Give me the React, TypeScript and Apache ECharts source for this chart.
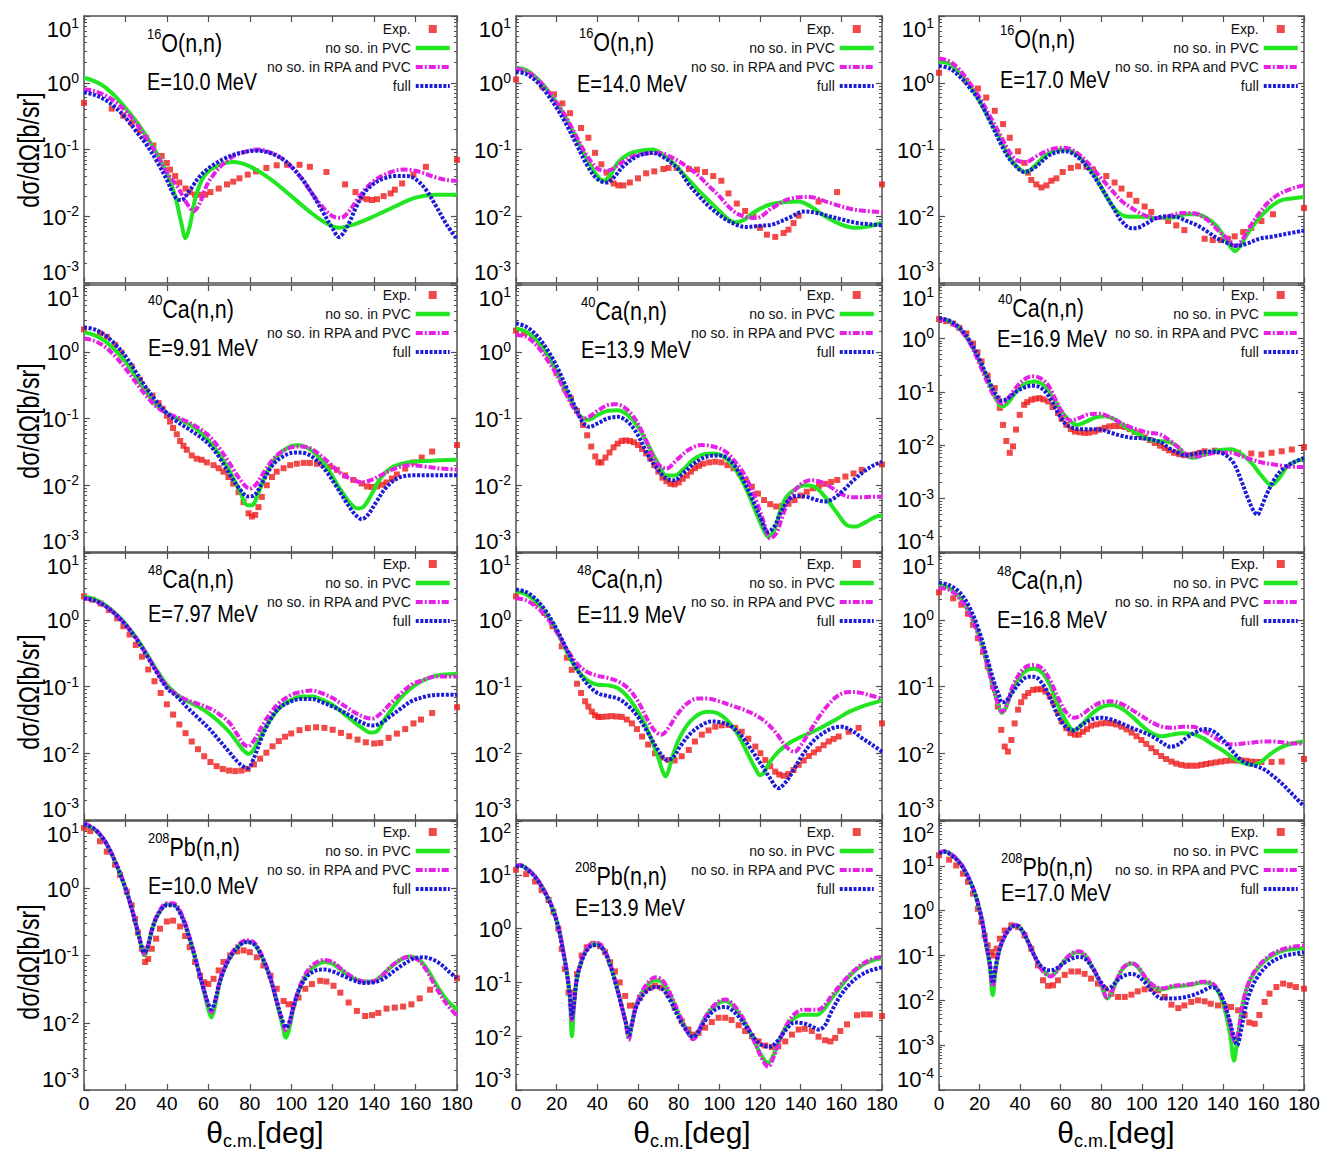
import React, { useEffect, useRef } from "react";
import * as echarts from "echarts";

type Pt = [number, number];

// ---------------- Panel 1: 16O(n,n) E=10.0 MeV ----------------
const p1Exp: Pt[] = [[0,0.5],[13.4,0.41],[19,0.32],[23,0.25],[27,0.19],[30,0.15],[33.5,0.115],[37.5,0.08],[40,0.063],[41.5,0.05],[44,0.04],[46,0.032],[49,0.026],[51,0.023],[53.6,0.021],[56,0.021],[58.5,0.021],[61,0.023],[65,0.026],[69,0.03],[72,0.033],[75,0.037],[79,0.042],[83,0.047],[88,0.053],[93,0.058],[98,0.059],[104,0.059],[109,0.055],[117,0.046],[126,0.03],[131,0.023],[134,0.019],[136.5,0.018],[139,0.0175],[141.4,0.018],[144.6,0.02],[148,0.022],[150,0.025],[153.5,0.031],[159,0.042],[165,0.055],[180,0.07]];
const p1Pvc: Pt[] = [[0,1.19],[5,1.06],[10,0.87],[15,0.63],[20,0.42],[25,0.27],[30,0.16],[35,0.089],[40,0.045],[44,0.02],[47,0.0078],[49,0.0047],[51,0.007],[54,0.02],[58,0.04],[64,0.056],[72,0.065],[80,0.056],[90,0.036],[100,0.02],[110,0.011],[118,0.0075],[123,0.0067],[130,0.0075],[140,0.01],[150,0.014],[160,0.019],[170,0.021],[180,0.021]];
const p1Rpa: Pt[] = [[0,0.8],[5,0.75],[10,0.65],[15,0.52],[20,0.38],[25,0.25],[30,0.15],[35,0.085],[40,0.045],[45,0.028],[50,0.015],[53,0.012],[56,0.016],[59,0.028],[62,0.04],[66,0.056],[72,0.079],[78,0.093],[84,0.1],[90,0.09],[95,0.075],[100,0.055],[105,0.037],[110,0.022],[115,0.014],[120,0.01],[124,0.0095],[128,0.012],[132,0.018],[136,0.026],[140,0.034],[145,0.042],[150,0.048],[155,0.05],[160,0.048],[165,0.043],[170,0.038],[175,0.035],[180,0.034]];
const p1Full: Pt[] = [[0,0.72],[5,0.66],[10,0.56],[15,0.43],[20,0.3],[25,0.19],[30,0.12],[35,0.068],[40,0.035],[43,0.022],[45,0.018],[47,0.0175],[50,0.022],[53,0.03],[56,0.04],[60,0.052],[64,0.063],[68,0.074],[72,0.083],[77,0.091],[82,0.096],[88,0.092],[95,0.075],[100,0.056],[105,0.037],[110,0.022],[115,0.012],[120,0.0065],[123,0.0049],[127,0.007],[131,0.013],[135,0.022],[140,0.031],[145,0.037],[150,0.04],[156,0.04],[160,0.036],[165,0.025],[170,0.014],[175,0.0075],[180,0.0045]];

// ---------------- Panel 2: 16O(n,n) E=14.0 MeV ----------------
const p2Exp: Pt[] = [[0,1.12],[13,0.87],[18.7,0.67],[22.8,0.49],[26.6,0.35],[32,0.21],[35.6,0.15],[38.9,0.089],[42,0.06],[44.6,0.045],[46,0.036],[48,0.031],[50.4,0.029],[52.8,0.029],[56,0.032],[60,0.037],[64,0.044],[68,0.047],[72.5,0.051],[75,0.053],[79,0.053],[85,0.051],[89,0.05],[93,0.046],[97,0.04],[101,0.034],[104.5,0.022],[108.6,0.0155],[112.7,0.012],[116.8,0.01],[120,0.0067],[123.4,0.0053],[127.5,0.0049],[131.6,0.0056],[134,0.0063],[136.5,0.0079],[139,0.0102],[148.8,0.0166],[157.9,0.023],[180,0.03]];
const p2Pvc: Pt[] = [[0,1.68],[5,1.55],[10,1.19],[15,0.81],[20,0.5],[25,0.28],[30,0.141],[35,0.071],[40,0.04],[43,0.034],[46,0.04],[50,0.063],[55,0.084],[60,0.094],[67,0.1],[72,0.085],[78,0.06],[85,0.035],[90,0.024],[95,0.017],[100,0.012],[104,0.0092],[108,0.0081],[112,0.0088],[118,0.012],[125,0.015],[132,0.0163],[139,0.0167],[145,0.014],[152,0.01],[160,0.0075],[167,0.0067],[173,0.007],[180,0.008]];
const p2Rpa: Pt[] = [[0,1.62],[5,1.5],[10,1.17],[15,0.8],[20,0.5],[25,0.29],[30,0.15],[35,0.08],[40,0.052],[44,0.048],[47,0.05],[52,0.064],[58,0.08],[64,0.087],[70,0.089],[77,0.075],[85,0.053],[90,0.04],[95,0.028],[100,0.02],[104.5,0.014],[110,0.0105],[118,0.0094],[126,0.0133],[134,0.018],[144,0.0195],[154,0.016],[164,0.013],[172,0.012],[180,0.0115]];
const p2Full: Pt[] = [[0,1.45],[5,1.35],[10,1.05],[15,0.7],[20,0.42],[25,0.23],[30,0.115],[35,0.058],[40,0.036],[44.6,0.032],[48,0.038],[53,0.057],[60,0.08],[67,0.089],[73,0.075],[80,0.05],[85,0.03],[90,0.02],[95,0.014],[100,0.0105],[104.5,0.0085],[113,0.0069],[120,0.0072],[126,0.0075],[134,0.0094],[142,0.0118],[148,0.0112],[154,0.01],[160,0.009],[167,0.008],[174,0.0076],[180,0.0073]];

// ---------------- Panel 3: 16O(n,n) E=17.0 MeV ----------------
const p3Exp: Pt[] = [[0,1.41],[13.5,1.06],[19.2,0.82],[23.3,0.6],[27.5,0.38],[31.6,0.24],[34.9,0.15],[39,0.094],[42.2,0.063],[43.9,0.045],[45.5,0.035],[48,0.03],[50.5,0.027],[53,0.029],[55.4,0.034],[57.9,0.037],[61,0.046],[65,0.053],[68.6,0.056],[72.7,0.055],[76,0.05],[82.5,0.04],[86.6,0.032],[90,0.026],[94,0.021],[97.3,0.017],[101.4,0.014],[104.7,0.0116],[113,0.0085],[117,0.0073],[121,0.0062],[131,0.0046],[135,0.0044],[139,0.0044],[142.5,0.0046],[145.8,0.005],[150,0.0058],[154,0.0067],[159,0.0085],[164.7,0.0107],[180,0.0133]];
const p3Pvc: Pt[] = [[0,2.07],[5,1.93],[10,1.41],[15,0.94],[20,0.53],[25,0.28],[30,0.15],[35,0.075],[40,0.05],[43,0.046],[47,0.056],[52,0.079],[57,0.096],[62,0.1],[67,0.089],[72,0.063],[77,0.04],[82,0.021],[87,0.0126],[92,0.01],[97,0.0098],[102,0.0098],[107,0.0094],[112,0.0094],[117,0.0098],[122,0.0107],[127,0.0107],[132,0.0094],[137,0.0071],[141,0.0047],[144,0.0034],[146,0.003],[149,0.0038],[153,0.006],[158,0.0094],[163,0.0134],[168,0.017],[174,0.0185],[180,0.0194]];
const p3Rpa: Pt[] = [[0,2.3],[5,2.1],[10,1.58],[15,1.0],[20,0.6],[25,0.32],[30,0.17],[34,0.1],[37,0.075],[40,0.066],[43,0.065],[48,0.079],[55,0.1],[62,0.106],[68,0.089],[75,0.056],[80,0.037],[85,0.025],[90,0.017],[95,0.0133],[100,0.0108],[105,0.0096],[110,0.0094],[115,0.0104],[120,0.0112],[124,0.0112],[128,0.0106],[133,0.0085],[138,0.006],[143,0.0044],[146,0.0036],[149,0.0042],[153,0.0067],[158,0.0112],[163,0.0168],[168,0.0216],[174,0.026],[180,0.029]];
const p3Full: Pt[] = [[0,1.78],[5,1.65],[10,1.26],[15,0.85],[20,0.53],[25,0.27],[30,0.13],[34,0.078],[37,0.06],[42,0.046],[47,0.053],[55,0.084],[62,0.094],[68,0.079],[74,0.05],[80,0.027],[86,0.0134],[90,0.0085],[95,0.0066],[98,0.0067],[102,0.0077],[107,0.0093],[112,0.01],[117,0.0098],[122,0.0085],[127,0.0074],[132,0.006],[137,0.0047],[142,0.004],[147,0.0036],[152,0.0039],[158,0.0046],[165,0.005],[172,0.0055],[180,0.0061]];

// ---------------- Panel 4: 40Ca(n,n) E=9.91 MeV ----------------
const p4Exp: Pt[] = [[0,2.16],[7.7,1.88],[11,1.68],[15,1.26],[18,0.97],[23,0.6],[27,0.38],[30,0.26],[33,0.22],[36,0.17],[38,0.14],[40,0.11],[41.5,0.09],[43,0.072],[44.8,0.058],[46.4,0.046],[48,0.039],[49.6,0.034],[52,0.028],[54.4,0.025],[56.8,0.024],[59.3,0.022],[62.5,0.02],[65,0.018],[67.3,0.016],[69.7,0.0133],[72,0.0106],[74.6,0.0079],[77,0.0056],[79.4,0.0038],[81,0.0034],[82.6,0.0036],[84.2,0.0047],[85.8,0.0067],[88.2,0.01],[90.7,0.0133],[93,0.016],[96.3,0.018],[99.5,0.02],[102.7,0.021],[106,0.0216],[109,0.0216],[112.4,0.021],[115.6,0.02],[118.8,0.019],[122,0.017],[126,0.014],[130,0.012],[134,0.0106],[136.6,0.0096],[139,0.0094],[141.4,0.0096],[143.8,0.0102],[146,0.011],[148.6,0.0126],[151,0.0145],[155,0.0178],[159,0.022],[163,0.026],[168,0.032],[180,0.04]];
const p4Pvc: Pt[] = [[0,1.95],[5,1.78],[10,1.46],[15,1.06],[20,0.71],[25,0.42],[30,0.25],[35,0.158],[40,0.12],[45,0.1],[50,0.084],[55,0.067],[60,0.047],[65,0.03],[70,0.017],[75,0.0084],[79,0.005],[81,0.005],[84,0.0075],[88,0.015],[93,0.027],[98,0.036],[103,0.04],[108,0.036],[113,0.027],[118,0.017],[123,0.0094],[128,0.0056],[132,0.0045],[135,0.0048],[139,0.0075],[143,0.0126],[148,0.018],[155,0.0216],[165,0.023],[180,0.024]];
const p4Rpa: Pt[] = [[0,1.58],[5,1.46],[10,1.19],[15,0.86],[20,0.56],[25,0.35],[30,0.22],[35,0.15],[40,0.12],[45,0.104],[50,0.089],[55,0.073],[60,0.056],[65,0.037],[70,0.022],[75,0.0126],[80,0.0089],[83,0.0103],[87,0.016],[92,0.026],[97,0.034],[103,0.038],[108,0.037],[113,0.03],[118,0.022],[124,0.015],[130,0.012],[134,0.011],[138,0.0118],[143,0.014],[150,0.0178],[157,0.02],[165,0.019],[172,0.0178],[180,0.0172]];
const p4Full: Pt[] = [[0,2.32],[5,2.16],[10,1.78],[15,1.3],[20,0.86],[25,0.5],[30,0.29],[35,0.18],[40,0.12],[45,0.089],[50,0.071],[55,0.056],[60,0.042],[65,0.027],[70,0.015],[75,0.0089],[79,0.0068],[82,0.007],[86,0.011],[91,0.02],[96,0.027],[102,0.031],[107,0.03],[112,0.024],[117,0.016],[122,0.0094],[127,0.0053],[131,0.0036],[134,0.0031],[137,0.0036],[141,0.0056],[146,0.0094],[152,0.013],[160,0.0141],[170,0.0141],[180,0.0141]];

// ---------------- Panel 5: 40Ca(n,n) E=13.9 MeV ----------------
const p5Exp: Pt[] = [[0,2.07],[4,1.9],[8,1.6],[12,1.2],[16,0.8],[20,0.48],[24,0.28],[27,0.2],[30,0.13],[33,0.08],[35,0.056],[37,0.038],[39,0.027],[40.5,0.022],[42,0.022],[44,0.026],[46,0.031],[48,0.037],[50,0.042],[52,0.046],[54,0.047],[56,0.046],[58,0.044],[60,0.04],[62,0.035],[64,0.03],[66,0.025],[68,0.02],[70,0.016],[72,0.013],[74,0.0115],[76,0.0105],[78,0.0103],[80,0.011],[82,0.0125],[84,0.014],[86,0.016],[88,0.018],[90,0.0195],[92,0.021],[95,0.022],[98,0.0225],[101,0.022],[104,0.02],[107,0.018],[110,0.015],[113,0.012],[116,0.0095],[119,0.0075],[122,0.006],[125,0.0052],[128,0.0048],[131,0.0049],[134,0.0053],[137,0.006],[140,0.007],[143,0.008],[146,0.009],[149,0.0098],[152,0.0105],[155,0.0112],[158,0.012],[162,0.0135],[166,0.015],[170,0.017],[180,0.0205]];
const p5Pvc: Pt[] = [[0,2.24],[5,2.0],[10,1.5],[15,0.94],[20,0.5],[25,0.24],[30,0.126],[33,0.1],[36,0.096],[40,0.112],[45,0.13],[50,0.133],[55,0.112],[60,0.075],[65,0.04],[70,0.021],[74,0.014],[78,0.014],[82,0.017],[87,0.024],[92,0.029],[97,0.03],[102,0.027],[107,0.019],[112,0.0106],[117,0.0047],[121,0.0024],[124,0.0017],[127,0.0021],[130,0.0042],[133,0.0067],[137,0.0086],[142,0.01],[147,0.0094],[152,0.0067],[158,0.0038],[163,0.0025],[167,0.0024],[172,0.0028],[177,0.0034],[180,0.0035]];
const p5Rpa: Pt[] = [[0,1.78],[5,1.68],[10,1.26],[15,0.79],[20,0.45],[25,0.22],[30,0.12],[33,0.1],[36,0.106],[40,0.13],[45,0.158],[49,0.164],[54,0.141],[59,0.094],[64,0.047],[69,0.022],[74,0.0178],[79,0.024],[85,0.034],[91,0.04],[97,0.038],[103,0.032],[108,0.022],[113,0.0133],[118,0.006],[122,0.0027],[125,0.0016],[128,0.0019],[131,0.0034],[135,0.0067],[140,0.0103],[145,0.0119],[150,0.0112],[155,0.0093],[160,0.0074],[165,0.0066],[170,0.0066],[175,0.0067],[180,0.0067]];
const p5Full: Pt[] = [[0,2.66],[5,2.37],[10,1.78],[15,1.12],[20,0.61],[25,0.28],[30,0.13],[33,0.086],[36,0.075],[40,0.084],[45,0.1],[50,0.106],[55,0.089],[60,0.056],[65,0.028],[70,0.0168],[74,0.0126],[78,0.0119],[82,0.015],[88,0.0216],[94,0.027],[100,0.028],[105,0.024],[110,0.015],[115,0.0075],[120,0.0034],[124,0.002],[127,0.0024],[130,0.0038],[134,0.006],[138,0.0069],[143,0.0067],[148,0.006],[152,0.0057],[156,0.0063],[161,0.0084],[166,0.0119],[171,0.016],[176,0.02],[180,0.0224]];

// ---------------- Panel 6: 40Ca(n,n) E=16.9 MeV ----------------
const p6Exp: Pt[] = [[0,2.3],[3.5,2.1],[7,1.9],[10,1.58],[13.5,1.24],[16.8,0.8],[19,0.55],[21,0.37],[24,0.2],[27.5,0.117],[29,0.075],[30,0.05],[31.6,0.024],[33.2,0.012],[34.9,0.0072],[36.5,0.0095],[38,0.0196],[39.8,0.037],[42,0.057],[43.5,0.064],[45.5,0.071],[47.5,0.074],[49.6,0.076],[51.5,0.072],[53.8,0.066],[56,0.052],[58.7,0.04],[60.5,0.031],[62.8,0.024],[65,0.02],[67,0.018],[69.5,0.0175],[71.8,0.017],[74,0.0172],[76.8,0.018],[79,0.0195],[81.7,0.021],[84,0.0225],[86.6,0.023],[89,0.0228],[91.6,0.022],[94,0.02],[96.5,0.0177],[99,0.0158],[101.4,0.014],[104,0.0125],[106.4,0.011],[109,0.0098],[111.3,0.0089],[113.5,0.008],[116,0.0072],[118.5,0.0068],[121,0.0065],[123.5,0.0065],[126,0.0067],[128.5,0.0072],[131,0.0077],[136,0.0079],[141,0.0077],[147.5,0.0072],[154,0.007],[159,0.0067],[164,0.0072],[169,0.0077],[174,0.0083],[180,0.0092]];
const p6Pvc: Pt[] = [[0,2.36],[5,2.1],[10,1.54],[15,0.87],[20,0.37],[25,0.135],[28,0.076],[31,0.053],[34,0.062],[38,0.1],[42,0.14],[47,0.156],[52,0.13],[56,0.08],[60,0.045],[64,0.03],[68,0.024],[72,0.027],[77,0.033],[82,0.035],[87,0.03],[92,0.022],[97,0.017],[102,0.0135],[107,0.012],[112,0.0118],[117,0.0098],[121,0.0068],[125,0.0058],[130,0.0065],[135,0.0076],[140,0.0082],[144,0.0084],[149,0.0069],[154,0.0047],[159,0.0027],[164,0.0018],[168,0.0025],[172,0.0041],[176,0.005],[180,0.0056]];
const p6Rpa: Pt[] = [[0,2.3],[5,2.05],[10,1.5],[15,0.85],[20,0.33],[25,0.12],[28,0.075],[31,0.06],[34,0.075],[38,0.12],[42,0.17],[46,0.195],[50,0.18],[54,0.13],[58,0.065],[62,0.035],[65,0.029],[69,0.032],[74,0.038],[79,0.039],[84,0.034],[89,0.027],[94,0.022],[99,0.019],[104,0.017],[109,0.016],[114,0.012],[119,0.0085],[124,0.006],[129,0.0063],[134,0.007],[139,0.0072],[144,0.0072],[149,0.0063],[154,0.0054],[160,0.0047],[166,0.0043],[172,0.004],[180,0.0039]];
const p6Full: Pt[] = [[0,2.4],[5,2.15],[10,1.6],[15,0.92],[20,0.4],[25,0.15],[28,0.09],[31,0.068],[34,0.075],[38,0.1],[42,0.12],[46,0.13],[50,0.12],[54,0.085],[58,0.045],[62,0.026],[66,0.021],[70,0.02],[75,0.02],[80,0.0195],[85,0.017],[90,0.015],[95,0.0138],[100,0.0135],[105,0.0128],[110,0.011],[114,0.0085],[118,0.0072],[121,0.0065],[125,0.0068],[130,0.0074],[135,0.0076],[140,0.007],[145,0.0048],[149,0.0022],[152,0.0011],[155,0.0006],[157,0.0005],[159,0.0007],[162,0.0013],[166,0.0025],[170,0.0037],[175,0.0048],[180,0.0058]];

// ---------------- Panel 7: 48Ca(n,n) E=7.97 MeV ----------------
const p7Exp: Pt[] = [[0,2.24],[4,2.0],[8,1.75],[12,1.4],[16,1.05],[19,0.8],[22,0.6],[25,0.42],[28,0.28],[31,0.18],[34,0.12],[37,0.08],[40,0.054],[43,0.038],[46,0.027],[49,0.02],[52,0.015],[55,0.0115],[58,0.009],[61,0.0074],[64,0.0064],[67,0.0058],[70,0.0055],[73,0.0054],[76,0.0055],[79,0.0058],[82,0.0068],[85,0.0083],[88,0.0102],[91,0.0127],[94,0.0152],[97,0.0177],[100,0.0198],[104,0.0222],[108,0.0238],[112,0.0245],[116,0.024],[120,0.0225],[124,0.0202],[128,0.018],[132,0.016],[136,0.0146],[140,0.014],[143,0.0143],[147,0.017],[151,0.0197],[155,0.023],[159,0.028],[162.6,0.032],[168,0.04],[180,0.049]];
const p7Pvc: Pt[] = [[0,2.24],[5,2.04],[10,1.68],[15,1.26],[20,0.87],[25,0.55],[30,0.32],[35,0.178],[40,0.106],[45,0.075],[50,0.06],[55,0.05],[60,0.04],[65,0.03],[70,0.021],[74,0.0145],[77,0.011],[79.5,0.0098],[82,0.0115],[86,0.02],[90,0.032],[95,0.05],[100,0.063],[105,0.071],[110,0.071],[115,0.063],[120,0.053],[125,0.04],[130,0.03],[135,0.023],[138,0.0204],[141,0.021],[145,0.032],[150,0.053],[155,0.079],[160,0.106],[165,0.129],[170,0.145],[180,0.155]];
const p7Rpa: Pt[] = [[0,2.1],[5,1.95],[10,1.62],[15,1.22],[20,0.85],[25,0.54],[30,0.31],[35,0.172],[40,0.1],[45,0.075],[50,0.062],[55,0.055],[60,0.048],[65,0.039],[70,0.029],[74,0.019],[77,0.0138],[79,0.0126],[82,0.0155],[86,0.026],[90,0.04],[94,0.056],[100,0.075],[105,0.083],[110,0.087],[115,0.079],[120,0.067],[125,0.053],[130,0.042],[135,0.035],[139,0.033],[143,0.039],[148,0.056],[153,0.079],[158,0.106],[163,0.123],[170,0.141],[180,0.141]];
const p7Full: Pt[] = [[0,2.1],[5,1.95],[10,1.62],[15,1.22],[20,0.84],[25,0.53],[30,0.3],[35,0.165],[40,0.095],[45,0.07],[50,0.048],[55,0.034],[60,0.024],[65,0.016],[70,0.0105],[74,0.0075],[77,0.0063],[79,0.006],[82,0.0085],[86,0.018],[90,0.032],[94,0.047],[100,0.06],[105,0.065],[110,0.065],[115,0.058],[120,0.05],[125,0.042],[130,0.034],[135,0.028],[139,0.026],[143,0.028],[148,0.036],[153,0.047],[158,0.06],[165,0.071],[172,0.075],[180,0.075]];

// ---------------- Panel 8: 48Ca(n,n) E=11.9 MeV ----------------
const p8Exp: Pt[] = [[0,2.24],[10,1.78],[14,1.26],[18,0.8],[22.5,0.4],[25,0.27],[27.4,0.178],[30,0.11],[32,0.08],[34,0.06],[35.6,0.05],[37.3,0.042],[38.9,0.037],[40.5,0.035],[42,0.035],[44.5,0.0355],[47,0.036],[49.5,0.0355],[52,0.035],[54.5,0.032],[57,0.028],[59.5,0.023],[62,0.0178],[65,0.0135],[68.4,0.01],[71.7,0.0086],[75,0.0079],[78,0.0078],[81.5,0.009],[85,0.0112],[88,0.015],[91.4,0.019],[94.7,0.022],[98,0.025],[101.2,0.0262],[104.5,0.0266],[107.8,0.024],[111,0.021],[114.3,0.0165],[117.7,0.0126],[120.2,0.01],[122.6,0.0079],[125,0.0064],[127.5,0.0053],[129.5,0.0048],[131.6,0.0046],[134,0.0049],[136.5,0.0056],[139,0.0067],[141.5,0.0078],[144,0.0091],[146.5,0.0103],[148.8,0.0115],[151.3,0.0132],[153.8,0.015],[156.2,0.0164],[158.7,0.0178],[163.6,0.021],[168.5,0.024],[180,0.028]];
const p8Pvc: Pt[] = [[0,2.66],[5,2.4],[10,1.85],[15,1.2],[20,0.68],[25,0.33],[30,0.18],[35,0.125],[40,0.106],[45,0.104],[50,0.095],[55,0.07],[60,0.042],[64,0.025],[67,0.015],[70,0.0085],[72,0.0055],[73.5,0.0045],[75,0.0055],[77,0.009],[80,0.016],[84,0.026],[88,0.035],[92,0.041],[95,0.042],[99,0.04],[103,0.033],[107,0.024],[111,0.015],[115,0.0085],[118,0.0057],[120,0.0047],[122,0.0052],[125,0.0075],[129,0.0105],[134,0.014],[140,0.0175],[146,0.021],[152,0.026],[158,0.033],[164,0.042],[170,0.05],[175,0.056],[180,0.062]];
const p8Rpa: Pt[] = [[0,2.1],[5,1.95],[10,1.55],[15,1.1],[20,0.65],[25,0.36],[30,0.22],[35,0.165],[40,0.145],[45,0.135],[50,0.12],[55,0.095],[60,0.06],[64,0.035],[68,0.022],[71.5,0.019],[75,0.024],[79,0.037],[84,0.055],[89,0.066],[94,0.066],[100,0.06],[106,0.052],[112,0.045],[118,0.037],[123,0.029],[128,0.02],[132,0.0135],[135,0.011],[137,0.0105],[140,0.013],[144,0.02],[149,0.035],[154,0.055],[159,0.075],[164,0.083],[169,0.081],[174,0.074],[180,0.066]];
const p8Full: Pt[] = [[0,2.85],[5,2.6],[10,2.0],[15,1.3],[20,0.72],[25,0.36],[30,0.18],[35,0.11],[40,0.08],[45,0.072],[50,0.066],[55,0.052],[60,0.035],[65,0.02],[70,0.011],[74,0.008],[77,0.0085],[81,0.013],[86,0.02],[91,0.026],[96,0.03],[101,0.029],[106,0.025],[111,0.018],[116,0.011],[121,0.0065],[125,0.0042],[129,0.003],[133,0.0038],[137,0.006],[141,0.0095],[146,0.015],[151,0.02],[156,0.024],[160,0.025],[165,0.022],[170,0.017],[175,0.0135],[180,0.0105]];

// ---------------- Panel 9: 48Ca(n,n) E=16.8 MeV ----------------
const p9Exp: Pt[] = [[0,2.57],[7,2.1],[11,1.68],[14.3,1.23],[16.8,0.84],[19.2,0.53],[21.7,0.33],[24,0.2],[26.6,0.1],[29,0.05],[30.7,0.0224],[32.4,0.0126],[34,0.0106],[35.7,0.0158],[37.3,0.028],[39,0.045],[40.5,0.058],[42.2,0.071],[44,0.08],[46.4,0.089],[48.5,0.091],[50.5,0.091],[52.5,0.084],[54.6,0.071],[56.5,0.057],[58.7,0.04],[60.5,0.03],[62.8,0.0237],[64.8,0.02],[67,0.019],[69,0.019],[71,0.021],[73,0.023],[75,0.0259],[77.5,0.027],[80,0.028],[82.5,0.0285],[85,0.028],[87.5,0.027],[90,0.025],[92.5,0.0228],[95,0.0204],[97.4,0.018],[99.8,0.0158],[102.2,0.0138],[104.7,0.0119],[107,0.0104],[109.6,0.0091],[112,0.0082],[114.6,0.0075],[117,0.007],[119.5,0.0067],[122,0.0065],[124.4,0.0065],[127,0.0065],[129.4,0.0067],[131.7,0.0069],[134,0.0071],[136.5,0.0073],[139,0.0075],[141.5,0.0077],[144,0.0078],[146.5,0.0078],[149,0.0078],[151.5,0.0077],[154,0.0075],[156.5,0.0074],[159,0.0074],[164,0.0074],[169,0.0075],[180,0.0082]];
const p9Pvc: Pt[] = [[0,3.35],[5,2.98],[10,2.2],[15,1.3],[20,0.55],[24,0.2],[27,0.09],[29.5,0.05],[31,0.04],[33,0.048],[36,0.085],[40,0.14],[44,0.18],[47,0.185],[51,0.16],[55,0.1],[59,0.05],[63,0.029],[66.5,0.022],[70,0.026],[75,0.038],[80,0.049],[85,0.053],[90,0.047],[95,0.036],[100,0.026],[105,0.02],[110,0.018],[115,0.019],[120,0.02],[125,0.0195],[130,0.017],[135,0.0135],[140,0.011],[145,0.0085],[150,0.0072],[155,0.0067],[159,0.0075],[163,0.0095],[168,0.012],[174,0.014],[180,0.015]];
const p9Rpa: Pt[] = [[0,3.0],[5,2.8],[10,2.1],[15,1.25],[20,0.52],[24,0.2],[27,0.09],[29.5,0.05],[31,0.042],[33,0.05],[36,0.095],[40,0.16],[44,0.205],[47,0.21],[51,0.185],[55,0.12],[59,0.065],[63,0.04],[66.5,0.034],[70,0.037],[75,0.048],[80,0.058],[85,0.06],[90,0.055],[95,0.045],[100,0.036],[105,0.029],[110,0.025],[115,0.024],[120,0.025],[125,0.025],[130,0.022],[135,0.018],[140,0.0145],[145,0.0135],[150,0.014],[155,0.0145],[160,0.015],[165,0.015],[170,0.0145],[175,0.014],[180,0.014]];
const p9Full: Pt[] = [[0,3.6],[5,3.3],[10,2.6],[15,1.55],[20,0.65],[24,0.25],[27,0.12],[29.5,0.075],[31,0.058],[33,0.06],[36,0.08],[40,0.115],[44,0.14],[47,0.14],[51,0.11],[55,0.065],[59,0.035],[63,0.024],[66.5,0.022],[70,0.026],[75,0.032],[80,0.034],[85,0.032],[90,0.028],[95,0.024],[100,0.021],[105,0.018],[110,0.0145],[114,0.0125],[118,0.0135],[122,0.017],[127,0.021],[131,0.023],[135,0.0215],[140,0.016],[145,0.0105],[150,0.0075],[155,0.0066],[160,0.0058],[165,0.0045],[170,0.0033],[175,0.0023],[180,0.0016]];

// ---------------- Panel 10: 208Pb(n,n) E=10.0 MeV ----------------
const p10Exp: Pt[] = [[0,7.9],[3,7.1],[7.7,5.0],[11,3.5],[15,2.24],[17.4,1.58],[20.6,0.89],[23,0.56],[24.6,0.35],[26,0.22],[27.9,0.126],[29.5,0.08],[31,0.089],[32.7,0.126],[34.8,0.178],[36.7,0.25],[40,0.32],[43,0.33],[46.4,0.27],[48.8,0.195],[51,0.133],[53.6,0.08],[56,0.05],[58,0.04],[60,0.0376],[62.5,0.045],[65,0.06],[67.3,0.08],[70.5,0.1],[73.8,0.115],[77,0.119],[80,0.112],[83.4,0.094],[86.6,0.071],[90,0.05],[93,0.032],[96.3,0.0211],[98.7,0.0188],[101,0.0188],[103.5,0.0237],[106.8,0.032],[110,0.0376],[114,0.042],[117,0.041],[120.4,0.0355],[123.7,0.028],[127.7,0.02],[131.7,0.015],[135.7,0.0126],[139,0.013],[142,0.014],[146,0.0162],[150,0.0168],[154,0.0174],[158,0.0188],[162,0.023],[167,0.031],[180,0.046]];
const p10Pvc: Pt[] = [[0,8.9],[5,7.5],[10,5.0],[15,2.5],[20,1.0],[23,0.5],[26,0.22],[28,0.126],[29,0.1],[30.5,0.12],[33,0.25],[36,0.42],[40,0.575],[43,0.575],[47,0.4],[51,0.178],[55,0.063],[58,0.028],[60,0.0158],[61.5,0.012],[63,0.0166],[66,0.045],[70,0.089],[74,0.133],[78,0.16],[82,0.15],[86,0.094],[90,0.045],[93,0.02],[95.5,0.01],[97.5,0.006],[99,0.008],[101,0.0158],[104,0.032],[108,0.056],[112,0.072],[116,0.08],[120,0.075],[125,0.058],[130,0.046],[135,0.041],[139,0.041],[143,0.048],[148,0.067],[153,0.087],[157,0.097],[161,0.09],[165,0.067],[170,0.037],[175,0.022],[180,0.0158]];
const p10Rpa: Pt[] = [[0,9.2],[5,7.7],[10,5.1],[15,2.55],[20,1.02],[23,0.51],[26,0.23],[28,0.13],[29,0.105],[30.5,0.125],[33,0.26],[36,0.44],[40,0.6],[43,0.6],[47,0.42],[51,0.185],[55,0.066],[58,0.03],[60,0.018],[61.5,0.0145],[63,0.019],[66,0.048],[70,0.093],[74,0.14],[78,0.168],[82,0.157],[86,0.098],[90,0.047],[93,0.021],[95.5,0.011],[97.5,0.0078],[99,0.0095],[101,0.017],[104,0.034],[108,0.06],[112,0.078],[116,0.086],[120,0.08],[125,0.06],[130,0.047],[135,0.041],[139,0.041],[143,0.048],[148,0.068],[153,0.088],[157,0.096],[161,0.087],[165,0.062],[170,0.033],[175,0.019],[180,0.0126]];
const p10Full: Pt[] = [[0,9.0],[5,7.6],[10,5.05],[15,2.5],[20,1.0],[23,0.5],[26,0.22],[28,0.13],[29,0.11],[30.5,0.13],[33,0.25],[36,0.42],[40,0.56],[43,0.56],[47,0.39],[51,0.175],[55,0.064],[58,0.03],[60,0.019],[61.5,0.0158],[63,0.02],[66,0.045],[70,0.088],[74,0.13],[78,0.158],[82,0.148],[86,0.093],[90,0.045],[93,0.021],[95.5,0.0115],[97.5,0.0085],[99,0.01],[101,0.017],[104,0.032],[108,0.05],[112,0.06],[116,0.062],[120,0.058],[125,0.05],[130,0.043],[135,0.039],[140,0.04],[145,0.046],[150,0.06],[155,0.077],[160,0.092],[164,0.094],[168,0.088],[172,0.075],[176,0.058],[180,0.046]];

// ---------------- Panel 11: 208Pb(n,n) E=13.9 MeV ----------------
const p11Exp: Pt[] = [[0,12.4],[5,10.3],[9.4,7.5],[12.6,5.2],[16,3.4],[18.4,2.05],[20.8,1.0],[22.5,0.42],[24,0.178],[25.8,0.065],[27,0.042],[28.4,0.065],[30,0.143],[32.3,0.316],[34.8,0.45],[38,0.52],[41.4,0.47],[43.8,0.365],[46.3,0.237],[48.7,0.16],[51,0.1],[53.7,0.056],[56,0.037],[58.6,0.037],[61,0.052],[63.5,0.07],[66,0.08],[68.4,0.087],[71.7,0.08],[75,0.06],[78,0.034],[81.5,0.019],[84.8,0.0133],[87,0.0107],[89.8,0.0115],[93,0.0144],[96.3,0.0183],[99.6,0.022],[102.9,0.022],[106,0.02],[109.5,0.016],[112.7,0.0125],[116,0.01],[119.3,0.008],[122.6,0.0067],[125.9,0.0063],[129,0.0065],[132.4,0.008],[135.7,0.0107],[139,0.0133],[142,0.0137],[145.5,0.0125],[148.8,0.0098],[152,0.0084],[154.6,0.008],[157,0.0093],[159.5,0.0125],[162.8,0.0166],[167.7,0.0245],[171,0.0254],[174,0.0254],[180,0.0237]];
const p11Pvc: Pt[] = [[0,14.3],[2,15],[5,13.3],[10,8.7],[15,4.2],[18,2.37],[21,1.0],[23,0.42],[25,0.154],[26.5,0.05],[27.5,0.01],[28.5,0.035],[30,0.12],[32.5,0.27],[35,0.42],[38,0.52],[40,0.52],[43,0.42],[46,0.237],[49,0.1],[52,0.037],[54,0.018],[55.5,0.0095],[57,0.017],[59,0.037],[62,0.065],[65,0.093],[68.5,0.11],[72,0.1],[76,0.056],[80,0.0255],[84,0.0133],[87,0.0094],[89,0.0107],[92,0.019],[96,0.0316],[100,0.042],[103,0.045],[106,0.039],[110,0.0255],[114,0.0144],[118,0.007],[121,0.0042],[124,0.0032],[126,0.004],[129,0.0075],[133,0.0154],[137,0.022],[141,0.025],[145,0.025],[148,0.025],[151,0.03],[155,0.049],[160,0.087],[165,0.143],[170,0.205],[175,0.255],[180,0.28]];
const p11Rpa: Pt[] = [[0,14.5],[2,15.2],[5,13.5],[10,8.8],[15,4.3],[18,2.4],[21,1.02],[23,0.43],[25,0.16],[26.5,0.055],[27.5,0.02],[28.5,0.04],[30,0.125],[32.5,0.28],[35,0.44],[38,0.54],[40,0.54],[43,0.43],[46,0.24],[49,0.1],[52,0.036],[54,0.017],[55.5,0.0085],[57,0.016],[59,0.036],[62,0.068],[65,0.1],[68.5,0.124],[72,0.11],[76,0.06],[80,0.027],[84,0.0128],[87,0.0088],[89,0.0103],[92,0.019],[96,0.033],[100,0.045],[103,0.048],[106,0.042],[110,0.027],[114,0.0148],[118,0.0068],[121,0.0038],[124,0.0027],[126,0.0035],[129,0.0072],[133,0.016],[137,0.026],[141,0.031],[145,0.031],[148,0.031],[151,0.035],[155,0.055],[160,0.094],[165,0.15],[170,0.215],[175,0.27],[180,0.3]];
const p11Full: Pt[] = [[0,14.0],[2,14.8],[5,13.0],[10,8.5],[15,4.1],[18,2.3],[21,0.98],[23,0.41],[25,0.15],[26.5,0.055],[27.5,0.022],[28.5,0.04],[30,0.12],[32.5,0.26],[35,0.4],[38,0.49],[40,0.49],[43,0.4],[46,0.225],[49,0.095],[52,0.035],[54,0.018],[55.5,0.0105],[57,0.017],[59,0.034],[62,0.055],[65,0.072],[68.5,0.082],[72,0.075],[76,0.045],[80,0.022],[84,0.0125],[87,0.0098],[89,0.011],[92,0.017],[96,0.027],[100,0.034],[103,0.035],[106,0.031],[110,0.022],[114,0.0135],[118,0.0085],[121,0.0068],[125,0.0064],[129,0.0085],[133,0.0135],[137,0.018],[141,0.0175],[145,0.0155],[149,0.0133],[152,0.016],[155,0.028],[160,0.06],[165,0.1],[170,0.14],[175,0.17],[180,0.19]];

// ---------------- Panel 12: 208Pb(n,n) E=17.0 MeV ----------------
const p12Exp: Pt[] = [[0,17.2],[5,13.7],[8.5,10.2],[11.8,6.7],[14.3,4.4],[16.8,2.4],[19.2,1.1],[20.9,0.56],[22.5,0.28],[24,0.17],[25.8,0.12],[27,0.1],[28.4,0.142],[30,0.237],[32.4,0.36],[35.7,0.47],[39,0.43],[42.2,0.28],[45.5,0.142],[48.8,0.06],[51.3,0.028],[53.8,0.021],[56.2,0.0217],[58.7,0.028],[62,0.037],[65.3,0.044],[68.6,0.044],[71.8,0.039],[75,0.0305],[78.4,0.0236],[81.7,0.0182],[85,0.0141],[88.3,0.0119],[91.6,0.0119],[94.9,0.0134],[98,0.0159],[101.4,0.0176],[104.7,0.0182],[108,0.0167],[111.3,0.0119],[114.6,0.008],[118,0.0067],[121,0.0077],[124.4,0.0092],[127.7,0.01],[131,0.0095],[134,0.0084],[137.6,0.0077],[140.9,0.0075],[144,0.0071],[147.5,0.006],[150.7,0.0047],[153,0.0032],[155.7,0.003],[158,0.0047],[160.6,0.0092],[163,0.0141],[166.4,0.0198],[169.7,0.0236],[173,0.0217],[176,0.0198],[180,0.0182]];
const p12Pvc: Pt[] = [[0,19.7],[3,21],[6,17.8],[10,12.2],[14,6.1],[18,2.2],[21,0.66],[23,0.2],[25,0.06],[26.5,0.013],[28,0.05],[30,0.142],[33,0.307],[36,0.45],[38,0.47],[41,0.36],[44,0.2],[47,0.1],[50,0.055],[53,0.039],[55,0.035],[58,0.045],[62,0.078],[66,0.11],[69,0.12],[72,0.1],[76,0.051],[80,0.0216],[83,0.011],[85,0.0145],[88,0.0305],[91,0.053],[95,0.066],[98,0.055],[102,0.0305],[106,0.02],[110,0.0175],[115,0.02],[120,0.021],[125,0.0225],[130,0.025],[134,0.024],[138,0.0145],[141,0.006],[143.5,0.0018],[145.5,0.00045],[147,0.0012],[148,0.0023],[150,0.0092],[153,0.0257],[157,0.051],[162,0.085],[167,0.116],[172,0.135],[176,0.142],[180,0.145]];
const p12Rpa: Pt[] = [[0,20],[3,21.5],[6,18.2],[10,12.5],[14,6.2],[18,2.25],[21,0.68],[23,0.21],[25,0.065],[26.5,0.02],[28,0.055],[30,0.145],[33,0.31],[36,0.46],[38,0.48],[41,0.37],[44,0.2],[47,0.1],[50,0.053],[53,0.037],[55,0.034],[58,0.044],[62,0.08],[66,0.115],[69,0.125],[72,0.105],[76,0.053],[80,0.022],[83,0.0115],[85,0.015],[88,0.031],[91,0.055],[95,0.068],[98,0.057],[102,0.032],[106,0.021],[110,0.0185],[115,0.021],[120,0.022],[125,0.0235],[130,0.026],[134,0.025],[138,0.016],[141,0.0075],[143.5,0.003],[145.5,0.0013],[147,0.0015],[148,0.0025],[150,0.0095],[153,0.027],[157,0.054],[162,0.092],[167,0.125],[172,0.148],[176,0.16],[180,0.165]];
const p12Full: Pt[] = [[0,19],[3,20.5],[6,17.3],[10,11.9],[14,6.0],[18,2.2],[21,0.66],[23,0.21],[25,0.07],[26.5,0.024],[28,0.058],[30,0.145],[33,0.3],[36,0.44],[38,0.46],[41,0.36],[44,0.2],[47,0.1],[50,0.06],[53,0.048],[55,0.047],[58,0.052],[62,0.07],[66,0.087],[69,0.093],[72,0.085],[76,0.05],[80,0.025],[83,0.018],[85,0.02],[88,0.028],[91,0.035],[95,0.039],[98,0.035],[102,0.024],[106,0.0145],[110,0.011],[115,0.011],[120,0.0115],[125,0.013],[130,0.016],[134,0.0195],[137,0.018],[140,0.0105],[143,0.004],[145,0.0018],[147,0.001],[149,0.0022],[151,0.0065],[154,0.018],[158,0.038],[163,0.066],[168,0.09],[173,0.105],[177,0.113],[180,0.118]];

// ---------------- Panel descriptors ----------------
const seriesNames = ["Exp.", "no so. in PVC", "no so. in RPA and PVC", "full"];
const panelMass = ["16", "16", "16", "40", "40", "40", "48", "48", "48", "208", "208", "208"];
const panelElement = ["O", "O", "O", "Ca", "Ca", "Ca", "Ca", "Ca", "Ca", "Pb", "Pb", "Pb"];
const panelEnergy = ["10.0", "14.0", "17.0", "9.91", "13.9", "16.9", "7.97", "11.9", "16.8", "10.0", "13.9", "17.0"];
const panelYMin = [1e-3, 1e-3, 1e-3, 1e-3, 1e-3, 1e-4, 1e-3, 1e-3, 1e-3, 1e-3, 1e-3, 1e-4];
const panelYMax = [10, 10, 10, 10, 10, 10, 10, 10, 10, 10, 100, 100];
const panelExp = [p1Exp, p2Exp, p3Exp, p4Exp, p5Exp, p6Exp, p7Exp, p8Exp, p9Exp, p10Exp, p11Exp, p12Exp];
const panelPvc = [p1Pvc, p2Pvc, p3Pvc, p4Pvc, p5Pvc, p6Pvc, p7Pvc, p8Pvc, p9Pvc, p10Pvc, p11Pvc, p12Pvc];
const panelRpa = [p1Rpa, p2Rpa, p3Rpa, p4Rpa, p5Rpa, p6Rpa, p7Rpa, p8Rpa, p9Rpa, p10Rpa, p11Rpa, p12Rpa];
const panelFull = [p1Full, p2Full, p3Full, p4Full, p5Full, p6Full, p7Full, p8Full, p9Full, p10Full, p11Full, p12Full];
const yAxisTitle = "dσ/dΩ[b/sr]";

// ---------------- Layout & style ----------------
const W = 1343;
const H = 1154;
const COL_LEFT = [84, 516, 939];
const COL_WIDTH = [373, 366, 365];
const COL_TITLE_X = [265, 692, 1116];
const ROW_TOP = [16, 285, 553, 821];
const ROW_HEIGHT = [267, 267, 267, 269];
const ROW_TITLE_Y = [150, 421, 692, 962];
const LEGEND_RIGHT = [891, 467, 43];
const LEGEND_TOP = [22, 288, 557, 825];
// [nuclide x, nuclide main-centre y, energy x, energy centre y]
const TITLE_POS: number[][] = [
  [147, 47, 147, 82], [579, 46, 577, 84], [1000, 43, 1000, 80],
  [148, 313, 148, 348], [581, 315, 581, 350], [998, 312, 997, 339],
  [148, 583, 148, 614], [577, 583, 577, 615], [997, 584, 997, 620],
  [148, 851, 148, 886], [575, 880, 575, 908], [1001, 871, 1001, 893],
];

const SANS = "'Liberation Sans', Arial, Helvetica, sans-serif";
const FRAME = "#505050";
const RED = "#ee1a1a";
const GREEN = "#22e622";
const MAGENTA = "#e620e6";
const BLUE = "#1c1cd8";

function buildOption() {
  const grid: any[] = [];
  const xAxis: any[] = [];
  const yAxis: any[] = [];
  const series: any[] = [];
  const legend: any[] = [];
  const elements: any[] = [];

  for (let i = 0; i < 12; i++) {
    const r = Math.floor(i / 3);
    const c = i % 3;
    grid.push({ left: COL_LEFT[c], top: ROW_TOP[r], width: COL_WIDTH[c], height: ROW_HEIGHT[r], containLabel: false });

    const axisLine = { show: true, onZero: false, lineStyle: { color: FRAME, width: 1.5 } };
    const axisTick = { show: true, inside: true, length: 6, lineStyle: { color: FRAME, width: 1.2 } };
    const minorTick = { show: true, splitNumber: 9, length: 3, lineStyle: { color: FRAME, width: 1 } };

    xAxis.push({
      type: "value", gridIndex: i, position: "bottom", min: 0, max: 180, interval: 20,
      axisLine, axisTick, splitLine: { show: false },
      axisLabel: { show: r === 3, fontSize: 19, fontFamily: SANS, color: "#000", margin: 4 },
    });
    xAxis.push({
      type: "value", gridIndex: i, position: "top", min: 0, max: 180, interval: 20,
      axisLine, axisTick, splitLine: { show: false }, axisLabel: { show: false },
    });

    yAxis.push({
      type: "log", gridIndex: i, position: "left", min: panelYMin[i], max: panelYMax[i],
      axisLine, axisTick, minorTick, splitLine: { show: false }, minorSplitLine: { show: false },
      axisLabel: {
        show: true, margin: 5, showMinLabel: true, showMaxLabel: true,
        verticalAlignMinLabel: "bottom", verticalAlignMaxLabel: "top",
        formatter: (v: number) => `{b|10}{e|${Math.round(Math.log10(v))}}`,
        rich: {
          b: { fontSize: 22, fontFamily: SANS, color: "#000", lineHeight: 24, verticalAlign: "bottom" },
          e: { fontSize: 14, fontFamily: SANS, color: "#000", lineHeight: 14, verticalAlign: "top" },
        },
      },
    });
    yAxis.push({
      type: "log", gridIndex: i, position: "right", min: panelYMin[i], max: panelYMax[i],
      axisLine, axisTick, minorTick, splitLine: { show: false }, minorSplitLine: { show: false },
      axisLabel: { show: false },
    });

    const xi = 2 * i;
    series.push({
      name: seriesNames[0], type: "scatter", xAxisIndex: xi, yAxisIndex: xi, data: panelExp[i],
      symbol: "rect", symbolSize: 6, itemStyle: { color: RED }, z: 2, silent: true,
    });
    series.push({
      name: seriesNames[1], type: "line", xAxisIndex: xi, yAxisIndex: xi, data: panelPvc[i],
      symbol: "none", smooth: 0.35, lineStyle: { color: GREEN, width: 4 }, itemStyle: { color: GREEN }, z: 3, silent: true,
    });
    series.push({
      name: seriesNames[2], type: "line", xAxisIndex: xi, yAxisIndex: xi, data: panelRpa[i],
      symbol: "none", smooth: 0.35, lineStyle: { color: MAGENTA, width: 4, type: [7, 2, 2, 2] }, itemStyle: { color: MAGENTA }, z: 4, silent: true,
    });
    series.push({
      name: seriesNames[3], type: "line", xAxisIndex: xi, yAxisIndex: xi, data: panelFull[i],
      symbol: "none", smooth: 0.35, lineStyle: { color: BLUE, width: 4, type: [3, 1.6] }, itemStyle: { color: BLUE }, z: 5, silent: true,
    });

    legend.push({
      orient: "vertical", align: "right", right: LEGEND_RIGHT[c], top: LEGEND_TOP[r], padding: 0,
      itemWidth: 34, itemHeight: 8, itemGap: 5, selectedMode: false, symbolKeepAspect: true,
      data: [
        { name: seriesNames[0], icon: "path://M0,0H10V10H0Z" },
        { name: seriesNames[1], itemStyle: { opacity: 0 }, lineStyle: { width: 4.5 } },
        { name: seriesNames[2], itemStyle: { opacity: 0 }, lineStyle: { width: 4 } },
        { name: seriesNames[3], itemStyle: { opacity: 0 }, lineStyle: { width: 4 } },
      ],
      textStyle: { fontSize: 14, fontFamily: SANS, color: "#111" },
    });

    const tp = TITLE_POS[i];
    elements.push({
      type: "text", x: tp[0], y: tp[1] - 21, z: 100, silent: true, scaleX: 0.86,
      style: {
        text: `{s|${panelMass[i]}}{m|${panelElement[i]}(n,n)}`,
        verticalAlign: "top", align: "left",
        rich: {
          s: { fontSize: 15, fontFamily: SANS, fill: "#000", lineHeight: 15, verticalAlign: "top", padding: [0, 0, 21, 0] },
          m: { fontSize: 25, fontFamily: SANS, fill: "#000", lineHeight: 30, verticalAlign: "bottom" },
        },
      },
    });
    elements.push({
      type: "text", x: tp[2], y: tp[3], z: 100, silent: true, scaleX: 0.83,
      style: {
        text: `E=${panelEnergy[i]} MeV`, fontSize: 24, fontFamily: SANS, fill: "#000",
        verticalAlign: "middle", align: "left",
      },
    });
  }

  // y-axis titles (left column)
  for (let r = 0; r < 4; r++) {
    elements.push({
      type: "text", x: 29, y: ROW_TITLE_Y[r], rotation: Math.PI / 2, scaleX: 0.8, z: 100, silent: true,
      style: { text: yAxisTitle, fontSize: 29, fontFamily: SANS, fill: "#000", align: "center", verticalAlign: "middle" },
    });
  }
  // x-axis titles (bottom row)
  for (let c = 0; c < 3; c++) {
    elements.push({
      type: "text", x: COL_TITLE_X[c], y: 1117, z: 100, silent: true,
      style: {
        text: "{t|θ}{s|c.m.}{t|[deg]}", align: "center", verticalAlign: "top",
        rich: {
          t: { fontSize: 30, fontFamily: SANS, fill: "#000", lineHeight: 24, verticalAlign: "top" },
          s: { fontSize: 18, fontFamily: SANS, fill: "#000", lineHeight: 16, verticalAlign: "top", padding: [15, 0, 0, 0] },
        },
      },
    });
  }

  return {
    animation: false,
    backgroundColor: "#fff",
    grid, xAxis, yAxis, series, legend,
    graphic: { elements },
  };
}

export default function App() {
  const ref = useRef<HTMLDivElement>(null);
  useEffect(() => {
    document.body.style.margin = "0";
    const chart = echarts.init(ref.current!, undefined, { renderer: "svg", width: W, height: H });
    chart.setOption(buildOption() as any);
    return () => chart.dispose();
  }, []);
  return <div ref={ref} style={{ width: W, height: H, background: "#fff" }} />;
}
